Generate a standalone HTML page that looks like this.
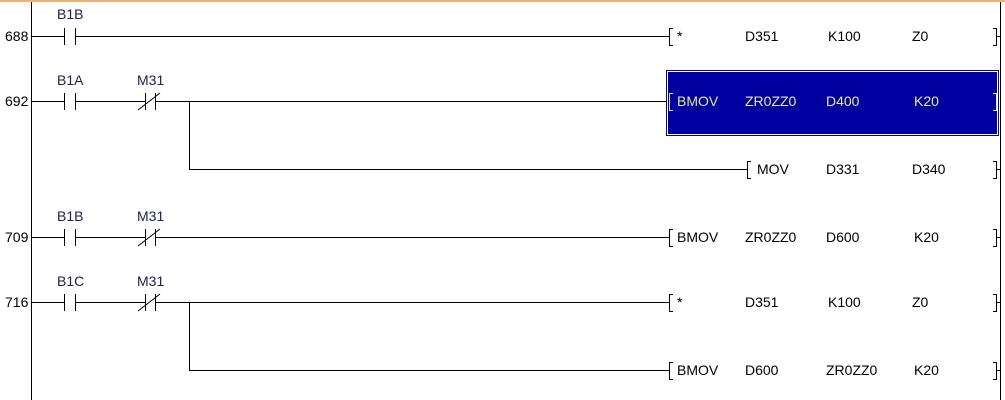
<!DOCTYPE html>
<html><head><meta charset="utf-8"><style>
html,body{margin:0;padding:0;background:#fff;}
svg{display:block;}
text{font-family:"Liberation Sans",sans-serif;font-size:14px;}
</style></head><body>
<svg width="1005" height="400" viewBox="0 0 1005 400" xmlns="http://www.w3.org/2000/svg">
<rect x="0" y="0" width="1005" height="400" fill="#fff"/>
<rect x="0" y="0" width="1005" height="2" fill="#f0b070"/>
<line x1="31.5" y1="2" x2="31.5" y2="400" stroke="#000"/>
<line x1="1000.5" y1="2" x2="1000.5" y2="400" stroke="#000"/>
<rect x="666" y="70" width="333" height="66" fill="#0000a0"/>
<rect x="667.5" y="71.5" width="330" height="63" fill="none" stroke="#fff" stroke-width="1"/>
<g stroke="#000" stroke-width="1" fill="none">
<path d="M31 36.5H64M75 36.5H669"/>
<path d="M31 101.5H64M75 101.5H145M155 101.5H667"/>
<path d="M189.5 101V169.5H747"/>
<path d="M31 237.5H64M75 237.5H145M155 237.5H669"/>
<path d="M31 302.5H64M75 302.5H145M155 302.5H669"/>
<path d="M189.5 302V370.5H669"/>
<path d="M64.5 28V45M75.5 28V45"/>
<path d="M64.5 93V110M75.5 93V110"/>
<path d="M64.5 229V246M75.5 229V246"/>
<path d="M64.5 294V311M75.5 294V311"/>
<path d="M145.5 93V110M155.5 93V110M138 110L160 93"/>
<path d="M145.5 229V246M155.5 229V246M138 246L160 229"/>
<path d="M145.5 294V311M155.5 294V311M138 311L160 294"/>
<path d="M673 28.5H669.5V45.5H673"/>
<path d="M751 161.5H747.5V178.5H751"/>
<path d="M673 229.5H669.5V246.5H673"/>
<path d="M673 294.5H669.5V311.5H673"/>
<path d="M673 362.5H669.5V379.5H673"/>
<path d="M993 28.5H996.5V45.5H993M996.5 36.5H1000"/>
<path d="M993 161.5H996.5V178.5H993M996.5 169.5H1000"/>
<path d="M993 229.5H996.5V246.5H993M996.5 237.5H1000"/>
<path d="M993 294.5H996.5V311.5H993M996.5 302.5H1000"/>
<path d="M993 362.5H996.5V379.5H993M996.5 370.5H1000"/>
</g>
<g stroke="#e8e880" fill="none">
<path d="M673 93.5H669.5V110.5H673"/>
<path d="M993 93.5H996.5V110.5H993"/>
</g>
<g fill="#000">
<text x="5" y="41">688</text>
<text x="5" y="106">692</text>
<text x="5" y="242">709</text>
<text x="5" y="307">716</text>
</g>
<g fill="#202050">
<text x="57" y="19">B1B</text>
<text x="57" y="85">B1A</text>
<text x="137" y="85">M31</text>
<text x="57" y="221">B1B</text>
<text x="137" y="221">M31</text>
<text x="57" y="286">B1C</text>
<text x="137" y="286">M31</text>
</g>
<g fill="#000">
<text x="677" y="41">*</text><text x="745" y="41">D351</text><text x="828" y="41">K100</text><text x="912" y="41">Z0</text>
<text x="757" y="174">MOV</text><text x="826" y="174">D331</text><text x="912" y="174">D340</text>
<text x="677" y="242">BMOV</text><text x="745" y="242">ZR0ZZ0</text><text x="826" y="242">D600</text><text x="914" y="242">K20</text>
<text x="677" y="307">*</text><text x="745" y="307">D351</text><text x="828" y="307">K100</text><text x="912" y="307">Z0</text>
<text x="677" y="375">BMOV</text><text x="745" y="375">D600</text><text x="826" y="375">ZR0ZZ0</text><text x="914" y="375">K20</text>
</g>
<g fill="#e8e890">
<text x="677" y="106">BMOV</text><text x="745" y="106">ZR0ZZ0</text><text x="826" y="106">D400</text><text x="914" y="106">K20</text>
</g>
</svg>
</body></html>
